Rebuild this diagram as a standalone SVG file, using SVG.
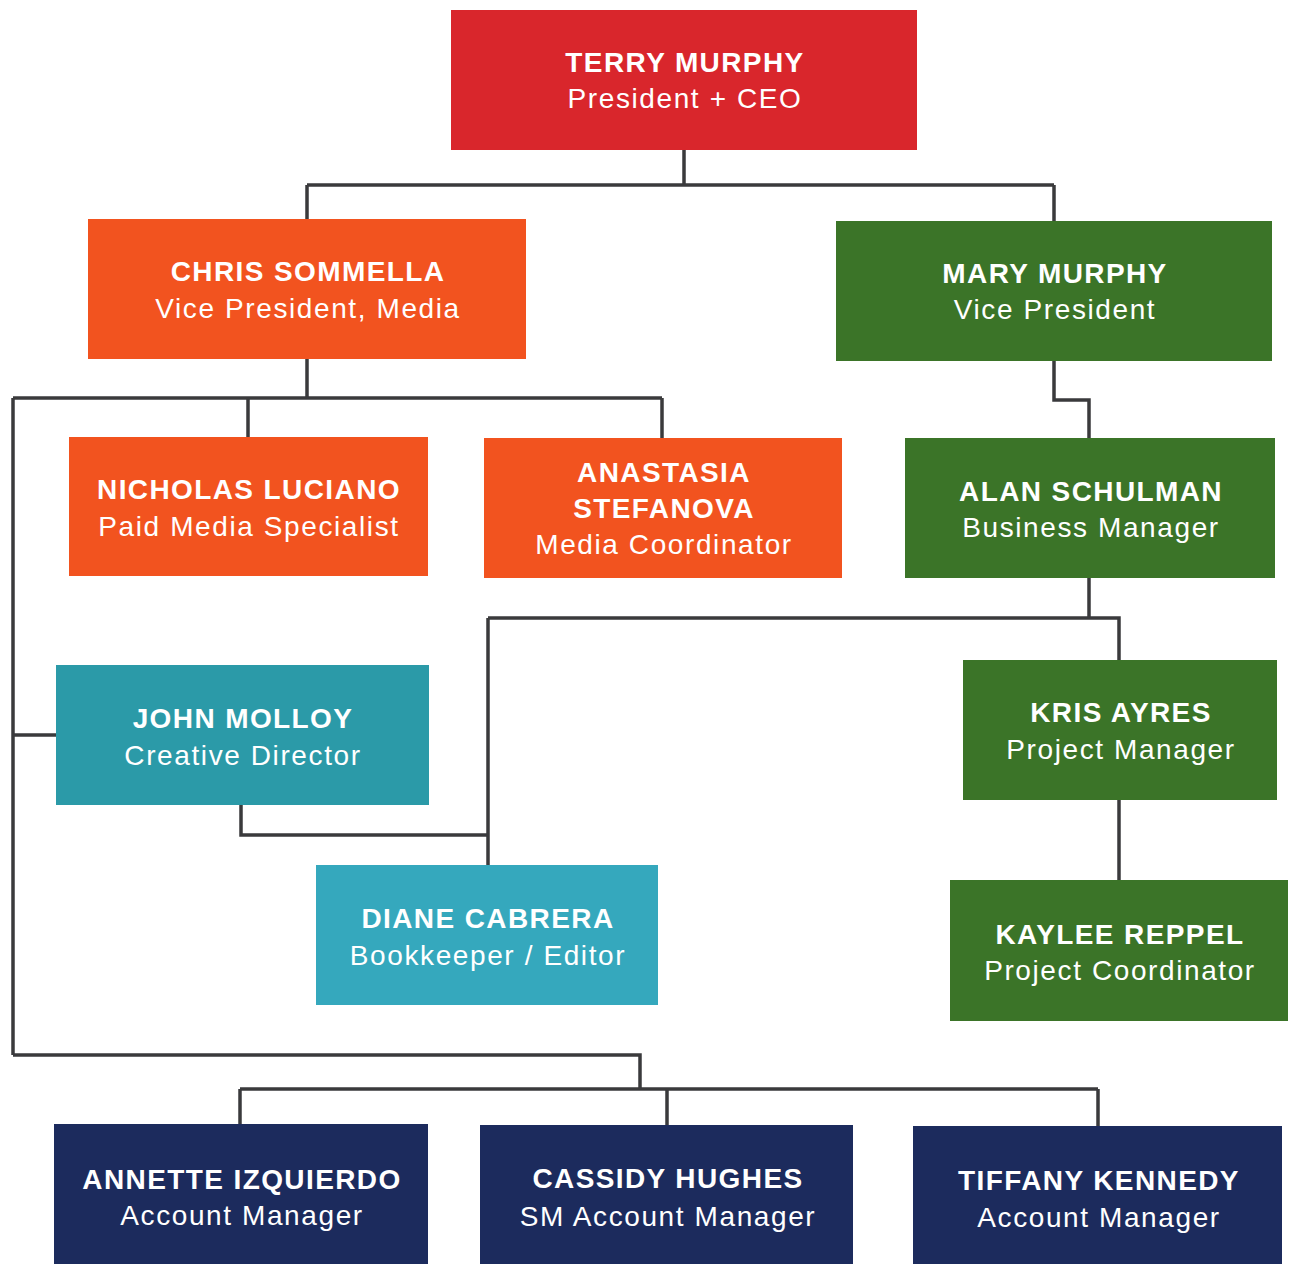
<svg xmlns="http://www.w3.org/2000/svg" width="1290" height="1264" viewBox="0 0 1290 1264">
<style>
.red{fill:#d9262c}.org{fill:#f2531f}.grn{fill:#3b7428}.teal{fill:#2b9aa8}.teal2{fill:#35a8bd}.navy{fill:#1c2b5d}
text{fill:#ffffff;font-family:"Liberation Sans",Arial,sans-serif;font-size:28px;text-anchor:middle}
.n{font-weight:bold;letter-spacing:1.4px}
.t{font-weight:normal;letter-spacing:1.6px}
#connectors path{fill:none;stroke:#3a3a3c;stroke-width:3.5}
</style>
<rect width="1290" height="1264" fill="#ffffff"/>
<g id="connectors">
<path d="M684 150V185M307 185H1054M307 185V219M1054 185V221"/>
<path d="M307 359V398M13 398H662M248 398V437M662 398V438M13 398V1055M13 735H56"/>
<path d="M13 1055H640V1089M240 1089H1098M240 1089V1124M667 1089V1125M1098 1089V1126"/>
<path d="M1054 361V400H1089V438"/>
<path d="M1089 578V618M488 618H1119V660M488 618V865M241 805V835H488"/>
<path d="M1119 800V880"/>
</g>
<g id="terry"><rect class="red" x="451" y="10" width="466" height="140"/><text class="n" x="685" y="72">TERRY MURPHY</text><text class="t" x="685" y="108">President + CEO</text></g>
<g id="chris"><rect class="org" x="88" y="219" width="438" height="140"/><text class="n" x="308" y="281">CHRIS SOMMELLA</text><text class="t" x="308" y="318">Vice President, Media</text></g>
<g id="mary"><rect class="grn" x="836" y="221" width="436" height="140"/><text class="n" x="1055" y="283">MARY MURPHY</text><text class="t" x="1055" y="319">Vice President</text></g>
<g id="nicholas"><rect class="org" x="69" y="437" width="359" height="139"/><text class="n" x="249" y="499">NICHOLAS LUCIANO</text><text class="t" x="249" y="536">Paid Media Specialist</text></g>
<g id="anastasia"><rect class="org" x="484" y="438" width="358" height="140"/><text class="n" x="664" y="482">ANASTASIA</text><text class="n" x="664" y="518">STEFANOVA</text><text class="t" x="664" y="554">Media Coordinator</text></g>
<g id="alan"><rect class="grn" x="905" y="438" width="370" height="140"/><text class="n" x="1091" y="501">ALAN SCHULMAN</text><text class="t" x="1091" y="537">Business Manager</text></g>
<g id="john"><rect class="teal" x="56" y="665" width="373" height="140"/><text class="n" x="243" y="728">JOHN MOLLOY</text><text class="t" x="243" y="765">Creative Director</text></g>
<g id="kris"><rect class="grn" x="963" y="660" width="314" height="140"/><text class="n" x="1121" y="722">KRIS AYRES</text><text class="t" x="1121" y="759">Project Manager</text></g>
<g id="diane"><rect class="teal2" x="316" y="865" width="342" height="140"/><text class="n" x="488" y="928">DIANE CABRERA</text><text class="t" x="488" y="965">Bookkeeper / Editor</text></g>
<g id="kaylee"><rect class="grn" x="950" y="880" width="338" height="141"/><text class="n" x="1120" y="944">KAYLEE REPPEL</text><text class="t" x="1120" y="980">Project Coordinator</text></g>
<g id="annette"><rect class="navy" x="54" y="1124" width="374" height="140"/><text class="n" x="242" y="1189">ANNETTE IZQUIERDO</text><text class="t" x="242" y="1225">Account Manager</text></g>
<g id="cassidy"><rect class="navy" x="480" y="1125" width="373" height="139"/><text class="n" x="668" y="1188">CASSIDY HUGHES</text><text class="t" x="668" y="1226">SM Account Manager</text></g>
<g id="tiffany"><rect class="navy" x="913" y="1126" width="369" height="138"/><text class="n" x="1099" y="1190">TIFFANY KENNEDY</text><text class="t" x="1099" y="1227">Account Manager</text></g>
</svg>
